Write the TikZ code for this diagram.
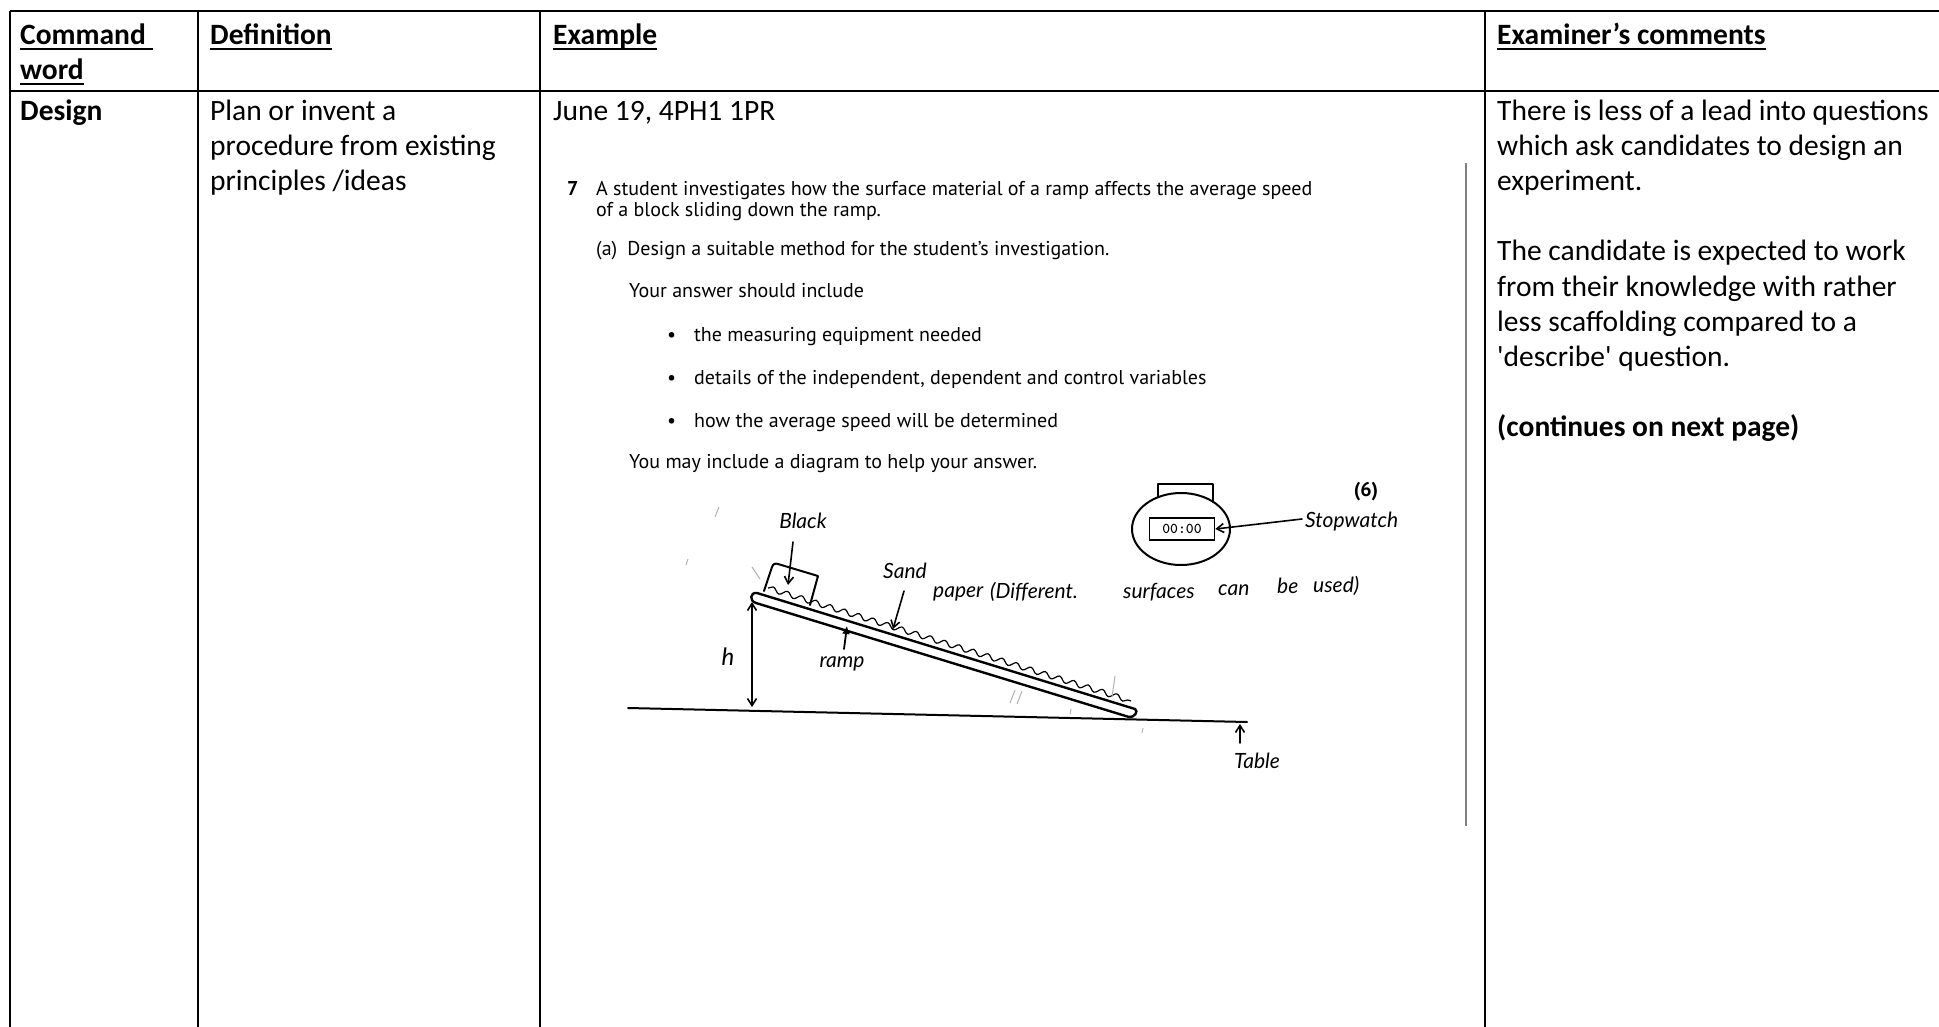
\documentclass[tikz,border=0pt]{standalone}
\usepackage{fontspec}
\setmainfont{Carlito}
\newfontfamily\rawcarl{Carlito}[Ligatures=TeXOff]
\newfontfamily\examfont{PT Sans}
\newfontfamily\handfont{Lato}
\usetikzlibrary{arrows.meta,decorations.pathmorphing}
\newcommand\ulx[1]{\setbox0\hbox{#1}\rlap{\rule[-5pt]{\wd0}{1.8pt}}\box0}
\tikzset{
  cell/.style={anchor=base west,inner sep=0pt,font=\fontsize{29.5}{35}\selectfont},
  hdr/.style={cell,font=\fontsize{29.5}{35}\selectfont\bfseries},
  ex/.style={anchor=base west,inner sep=0pt,font=\examfont\fontsize{20}{23}\selectfont},
  exb/.style={ex,font=\examfont\bfseries\fontsize{20}{23}\selectfont},
  hand/.style={inner sep=0pt,font=\handfont\itshape\fontsize{21}{24}\selectfont},
  pen/.style={line width=2pt,line cap=round,line join=round},
  grid/.style={line width=1.4pt},
  stray/.style={gray!60,line width=1pt},
  barb/.style={-{Straight Barb[length=7pt,width=9pt]}}
}
\begin{document}
\begin{tikzpicture}[x=1pt,y=-1pt]
\useasboundingbox (0,0) rectangle (1939,1027);
\fill[white] (0,0) rectangle (1939,1027);
% table grid
\draw[grid] (10,11) -- (1939,11);
\draw[grid] (10,91) -- (1939,91);
\foreach \x in {10,198,540,1485} \draw[grid] (\x,11) -- (\x,1027);
% headers
\node[hdr] (hc1) at (20,45) {\ulx{Command }};
\node[hdr] (hc2) at (20,80) {\ulx{word}};
\node[hdr] (hd) at (210,45) {\ulx{Definition}};
\node[hdr] (he) at (553,45) {\ulx{Example}};
\node[hdr] (hx) at (1497,45) {\ulx{Examiner’s comments}};
% row
\node[hdr] (cw) at (20,121) {Design};
\node[cell] (d1) at (210,121) {Plan or invent a};
\node[cell] (d2) at (210,156) {procedure from existing};
\node[cell] (d3) at (210,191) {principles /ideas};
\node[cell] (e0) at (553,121) {June 19, 4PH1 1PR};
\node[cell] (x1) at (1497,121) {There is less of a lead into questions};
\node[cell] (x2) at (1497,156) {which ask candidates to design an};
\node[cell] (x3) at (1497,191) {experiment.};
\node[cell] (x4) at (1497,261) {The candidate is expected to work};
\node[cell] (x5) at (1497,296) {from their knowledge with rather};
\node[cell] (x6) at (1497,331) {less scaffolding compared to a};
\node[cell,font=\rawcarl\fontsize{29.5}{35}\selectfont] (x7) at (1497,366) {'describe' question.};
\node[hdr] (x8) at (1497,436) {(continues on next page)};
% exam snippet
\node[exb] (q7) at (567,196) {7};
\node[ex] (q1) at (596,196) {A student investigates how the surface material of a ramp affects the average speed};
\node[ex] (q2) at (596,217) {of a block sliding down the ramp.};
\node[ex] (qa) at (596,256) {(a)\enspace Design a suitable method for the student’s investigation.};
\node[ex] (qy) at (629,298) {Your answer should include};
\node[ex] (b1) at (667,341) {•};
\node[ex] (t1) at (694,341) {the measuring equipment needed};
\node[ex] (b2) at (667,384) {•};
\node[ex] (t2) at (694,384) {details of the independent, dependent and control variables};
\node[ex] (b3) at (667,427) {•};
\node[ex] (t3) at (694,427) {how the average speed will be determined};
\node[ex] (qm) at (629,468) {You may include a diagram to help your answer.};
\node[exb,anchor=center] (mk) at (1366,492) {(6)};
% right margin line of the scanned page
\draw[gray,line width=1.5pt] (1466,163) -- (1466,826);
% ---- sketch ----
\coordinate (g1) at (628,708);
\coordinate (g2) at (1247,722);
\draw[pen] (g1) -- (g2);
% ramp
\draw[pen,line width=2.4pt] (757,593) -- (1135,709) .. controls (1139,711) and (1134,718) .. (1129,717) -- (756,603) .. controls (749,601) and (750,592) .. cycle;
% sandpaper
\draw[line width=1.2pt,decorate,decoration={snake,amplitude=2.6pt,segment length=15pt}] (768,588) -- (1131,701);
% block
\draw[pen] (764,591) -- (772,567) .. controls (773,564) and (775,563) .. (778,564) -- (818,576) -- (810,605);
% labels and pointers
\node[hand] (blk) at (803,521) {Black};
\coordinate (blks) at (793,542);
\coordinate (blkt) at (788,585);
\draw[pen,line width=1.6pt,barb] (blks) -- (blkt);
\node[hand,font=\handfont\itshape\fontsize{24}{24}\selectfont] (hh) at (728,657) {h};
\coordinate (ha) at (752,602);
\coordinate (hb) at (752,707);
\draw[pen,line width=1.6pt,{Straight Barb[length=7pt,width=9pt]}-{Straight Barb[length=7pt,width=9pt]}] (ha) -- (hb);
\node[hand] (rmp) at (842,664) {ramp};
\coordinate (rmps) at (844,649);
\coordinate (rmpt) at (847,626);
\draw[pen,line width=1.8pt,-{Latex[length=8pt,width=8pt]}] (rmps) -- (rmpt);
\node[hand,anchor=base west] (sd) at (883,578) {Sand};
\node[hand,anchor=base west] (sp) at (933,597) {paper};
\node[hand,anchor=base west] (sdf) at (990,598) {(Different.};
\node[hand,anchor=base west] (ssf) at (1123,598) {surfaces};
\node[hand,anchor=base west] (scn) at (1218,595) {can};
\node[hand,anchor=base west] (sbe) at (1277,593) {be};
\node[hand,anchor=base west] (sus) at (1313,592) {used)};
\coordinate (sds) at (904,591);
\coordinate (sdt) at (893,629);
\draw[pen,line width=1.6pt,barb] (sds) -- (sdt);
\node[hand] (tbl) at (1257,761) {Table};
\coordinate (tbls) at (1240,743);
\coordinate (tblt) at (1240,724);
\draw[pen,line width=1.6pt,barb] (tbls) -- (tblt);
% stopwatch
\draw[pen] (1181,529) ellipse [x radius=49,y radius=36];
\draw[pen] (1158,497) -- (1158,484) -- (1213,484) -- (1213,502);
\node[draw,line width=1.6pt,minimum width=65pt,minimum height=22pt,inner sep=0pt,font=\ttfamily\bfseries\fontsize{15}{15}\selectfont] (disp) at (1182,529) {00:00};
\node[hand,anchor=west] (sw) at (1305,522) {Stopwatch};
\draw[pen,line width=1.6pt,barb] (sw.west) ++(-3,-3) coordinate (sws) -- (disp.east);
% stray pencil marks
\draw[stray] (752,567) -- (760,579);
\draw[stray] (715,517) -- (719,507);
\draw[stray] (686,565) -- (688,559);
\draw[stray] (1010,703) -- (1015,690);
\draw[stray] (1017,704) -- (1022,691);
\draw[stray] (1112,697) -- (1115,676);
\draw[stray] (1070,714) -- (1071,709);
\draw[stray] (1142,733) -- (1143,728);
\end{tikzpicture}
\end{document}
